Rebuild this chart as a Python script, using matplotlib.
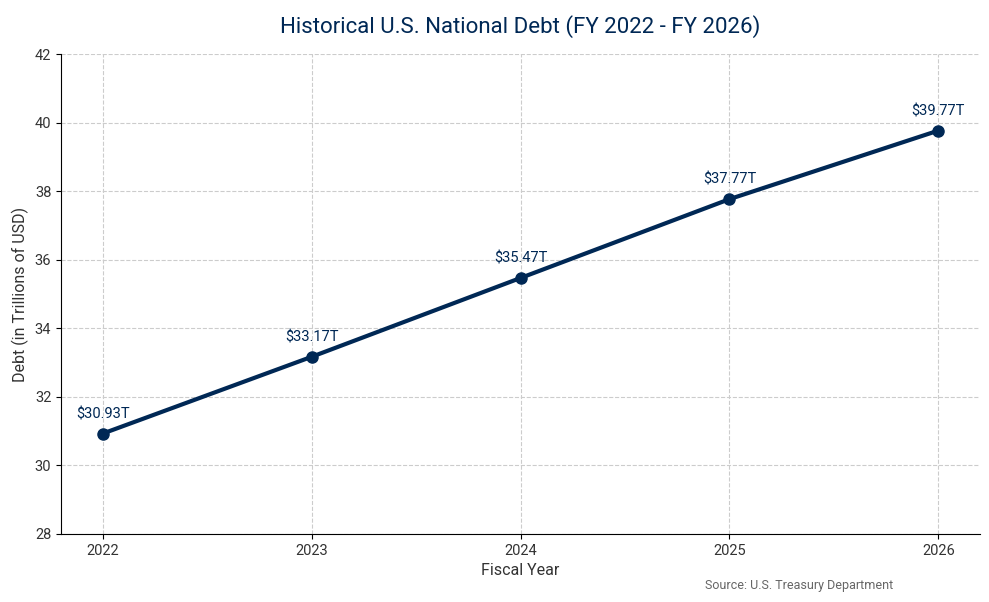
import matplotlib
matplotlib.use('Agg')
import matplotlib.pyplot as plt

# data
years = [2022, 2023, 2024, 2025, 2026]
debt = [30.93, 33.17, 35.47, 37.77, 39.77]
labels = ['$30.93T', '$33.17T', '$35.47T', '$37.77T', '$39.77T']

navy = '#002855'
plt.rcParams['font.family'] = ['Roboto', 'DejaVu Sans']

fig, ax = plt.subplots(figsize=(9.89, 6.02), dpi=100)
fig.subplots_adjust(left=0.0617, right=0.991, top=0.910, bottom=0.113)

ax.plot(years, debt, color=navy, linewidth=3, marker='o', markersize=8, zorder=3)
for x, y, s in zip(years, debt, labels):
    ax.annotate(s, (x, y), xytext=(0, 9), textcoords='offset points',
                ha='center', va='bottom', fontsize=10.5, color=navy)

ax.set_xlim(2021.8, 2026.2)
ax.set_ylim(28, 42)
ax.set_xticks(years)
ax.set_yticks(range(28, 43, 2))
ax.tick_params(labelsize=10.5, colors='#333333')
ax.tick_params(axis='both', color='black')

ax.grid(True, linestyle='--', color='#cccccc', linewidth=0.8)
ax.set_axisbelow(True)
ax.spines['top'].set_visible(False)
ax.spines['right'].set_visible(False)

ax.set_title('Historical U.S. National Debt (FY 2022 - FY 2026)', fontsize=16,
             color=navy, pad=15)
ax.set_xlabel('Fiscal Year', fontsize=11.5, color='#333333')
ax.set_ylabel('Debt (in Trillions of USD)', fontsize=11.5, color='#333333')

fig.text(0.808, 0.022, 'Source: U.S. Treasury Department', fontsize=9,
         color='#666666', ha='center')

fig.savefig('out.png', dpi=100)
